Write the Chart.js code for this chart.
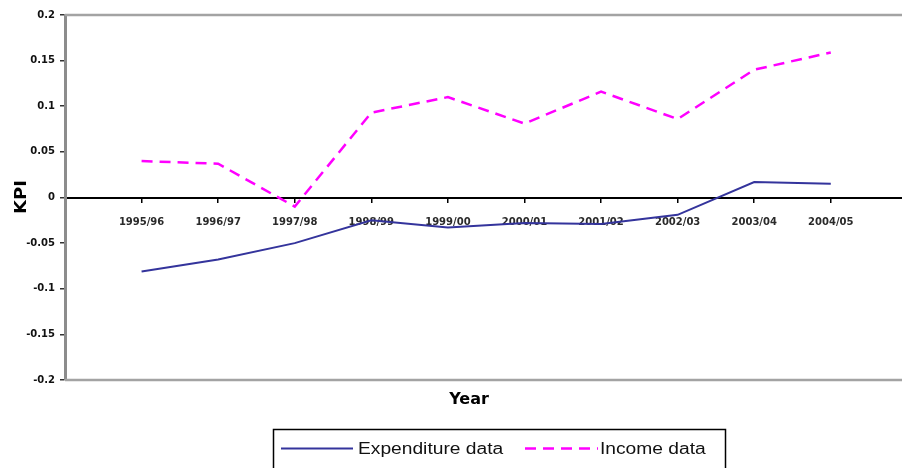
<!DOCTYPE html>
<html>
<head>
<meta charset="utf-8">
<script src="https://cdn.jsdelivr.net/npm/chart.js@4/dist/chart.umd.min.js"></script>
<style>
  html, body { margin: 0; padding: 0; background: #ffffff; }
  #wrap { width: 902px; height: 468px; position: relative; }
</style>
</head>
<body>
<div id="wrap"><canvas id="kpi"></canvas></div>
<script>
// Financial years on the category axis
const years = ['1995/96', '1996/97', '1997/98', '1998/99', '1999/00',
               '2000/01', '2001/02', '2002/03', '2003/04', '2004/05'];

// KPI per year for each data source
const expenditureKpi = [-0.081, -0.068, -0.050, -0.025, -0.033, -0.028, -0.029, -0.019, 0.017, 0.015];
const incomeKpi      = [0.040, 0.037, -0.010, 0.093, 0.110, 0.081, 0.116, 0.086, 0.140, 0.159];

// Value axis ticks
const kpiTicks = [-0.2, -0.15, -0.1, -0.05, 0, 0.05, 0.1, 0.15, 0.2];

const seriesNames = ['Expenditure data', 'Income data'];

const toPoints = arr => arr.map((v, i) => ({ x: i, y: v }));

// Axis titles, plot frame and boxed legend
const decorations = {
  id: 'decorations',
  beforeDatasetsDraw(chart) {
    const { ctx, chartArea: a } = chart;
    ctx.save();
    ctx.strokeStyle = '#a3a3a3';
    ctx.lineWidth = 2.5;
    ctx.beginPath();
    ctx.moveTo(a.left, a.top); ctx.lineTo(a.right, a.top);
    ctx.moveTo(a.left, a.bottom); ctx.lineTo(a.right, a.bottom);
    ctx.stroke();
    ctx.restore();
  },
  afterDraw(chart) {
    const { ctx } = chart;
    ctx.save();
    ctx.fillStyle = '#000000';

    // y title
    ctx.save();
    ctx.translate(22, 197);
    ctx.rotate(-Math.PI / 2);
    ctx.scale(1.2, 1);
    ctx.font = 'bold 15px "DejaVu Sans"';
    ctx.textAlign = 'center';
    ctx.textBaseline = 'middle';
    ctx.fillText('KPI', 0, 0);
    ctx.restore();

    // x title
    ctx.font = 'bold 16px "DejaVu Sans"';
    ctx.textAlign = 'center';
    ctx.textBaseline = 'middle';
    ctx.fillText('Year', 469, 400);

    // legend frame
    ctx.strokeStyle = '#000000';
    ctx.lineWidth = 1.5;
    ctx.strokeRect(273.5, 429.5, 452, 45);

    const sets = chart.data.datasets;
    const items = [
      { ds: sets[0], x1: 281, x2: 353, tx: 358 },
      { ds: sets[1], x1: 525, x2: 598, tx: 600 }
    ];
    const ly = 448.5;
    items.forEach(it => {
      ctx.save();
      ctx.strokeStyle = it.ds.borderColor;
      ctx.lineWidth = it.ds.borderWidth;
      ctx.setLineDash(it.ds.borderDash || []);
      ctx.beginPath();
      ctx.moveTo(it.x1, ly);
      ctx.lineTo(it.x2, ly);
      ctx.stroke();
      ctx.restore();

      ctx.save();
      ctx.translate(it.tx, ly);
      ctx.scale(1.2, 1);
      ctx.font = '16px "Liberation Sans"';
      ctx.fillStyle = '#111111';
      ctx.textAlign = 'left';
      ctx.textBaseline = 'middle';
      ctx.fillText(it.ds.label, 0, 1);
      ctx.restore();
    });
    ctx.restore();
  }
};

new Chart(document.getElementById('kpi'), {
  type: 'line',
  data: {
    datasets: [
      {
        label: seriesNames[0],
        data: toPoints(expenditureKpi),
        borderColor: '#34349c',
        borderWidth: 2,
        pointRadius: 0,
        tension: 0,
        fill: false
      },
      {
        label: seriesNames[1],
        data: toPoints(incomeKpi),
        borderColor: '#ff00ff',
        borderWidth: 2.5,
        borderDash: [11, 7],
        pointRadius: 0,
        tension: 0,
        fill: false
      }
    ]
  },
  plugins: [decorations],
  options: {
    responsive: true,
    maintainAspectRatio: false,
    animation: false,
    layout: { padding: { top: 15, right: 0, bottom: 88, left: 0 } },
    plugins: {
      legend: { display: false },
      tooltip: { enabled: false }
    },
    scales: {
      x: {
        type: 'linear',
        position: { y: 0 },
        min: -1,
        max: 9.93,
        afterBuildTicks(scale) {
          scale.ticks = years.map((_, i) => ({ value: i }));
        },
        grid: {
          drawOnChartArea: false,
          drawTicks: true,
          tickLength: 4,
          color: '#000000',
          lineWidth: 1.5
        },
        border: { display: true, color: '#000000', width: 2 },
        ticks: {
          autoSkip: false,
          maxRotation: 0,
          padding: 15,
          color: '#2a2a2a',
          font: { family: '"DejaVu Sans"', size: 10, weight: 'bold' },
          callback: v => years[v] ?? ''
        }
      },
      y: {
        min: -0.2,
        max: 0.2,
        afterBuildTicks(scale) {
          scale.ticks = kpiTicks.map(v => ({ value: v }));
        },
        afterFit(scale) { scale.width = 65; },
        grid: {
          drawOnChartArea: false,
          drawTicks: true,
          tickLength: 5,
          color: '#333333',
          lineWidth: 1.5
        },
        border: { display: true, color: '#8c8c8c', width: 3 },
        ticks: {
          padding: 5,
          color: '#111111',
          font: { family: '"DejaVu Sans"', size: 10, weight: 'bold' },
          callback: v => String(+Number(v).toFixed(2))
        }
      }
    }
  }
});
</script>
</body>
</html>
